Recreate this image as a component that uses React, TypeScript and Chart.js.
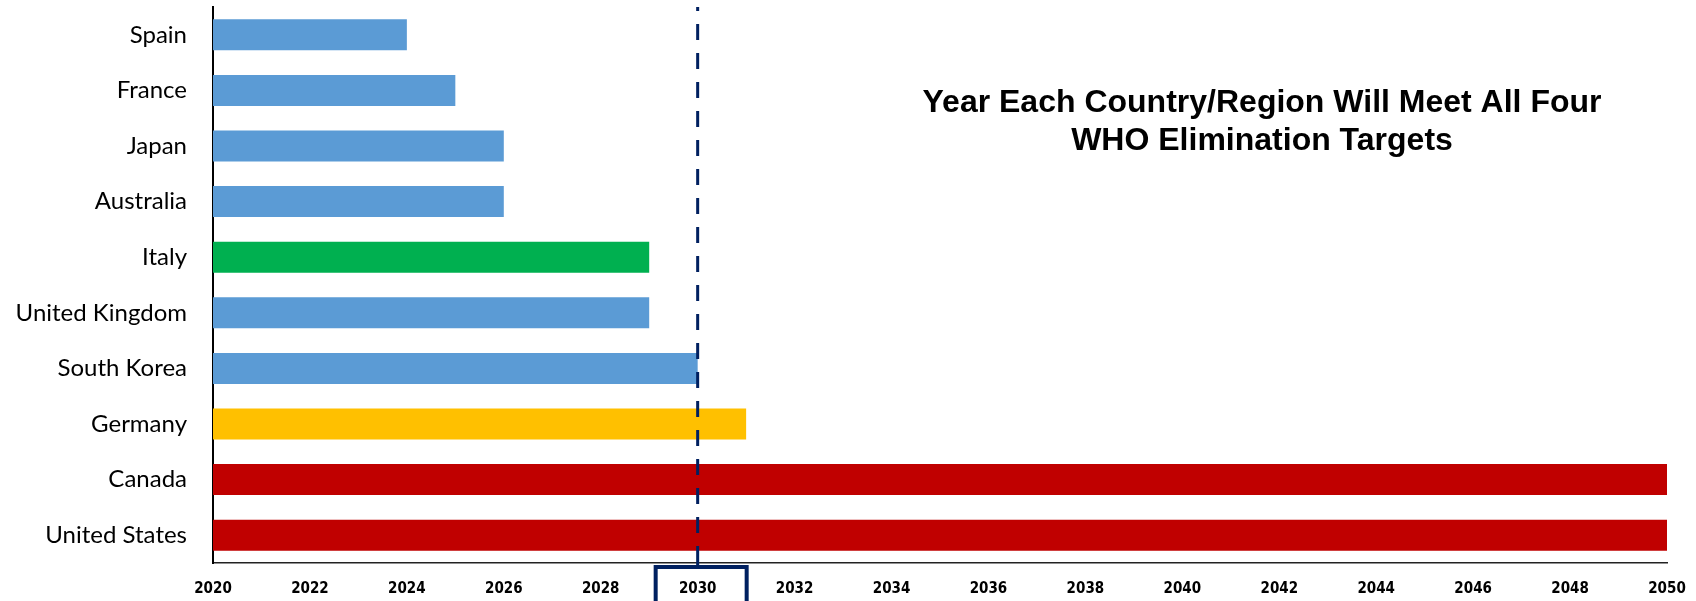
import React, { useEffect, useRef } from "react";
import { Chart, registerables } from "chart.js";

Chart.register(...registerables);

const countries = [
  "Spain",
  "France",
  "Japan",
  "Australia",
  "Italy",
  "United Kingdom",
  "South Korea",
  "Germany",
  "Canada",
  "United States",
];
const eliminationYear = [2024, 2025, 2026, 2026, 2029, 2029, 2030, 2031, 2050, 2050];
const barColors = [
  "#5B9BD5",
  "#5B9BD5",
  "#5B9BD5",
  "#5B9BD5",
  "#00B050",
  "#5B9BD5",
  "#5B9BD5",
  "#FFC000",
  "#C00000",
  "#C00000",
];
const START_YEAR = 2020;
const END_YEAR = 2050;
const TARGET_YEAR = 2030;
const titleLines = ["Year Each Country/Region Will Meet All Four", "WHO Elimination Targets"];

const overlayPlugin = {
  id: "overlay",
  afterDatasetsDraw(chart: any) {
    const { ctx, chartArea, scales } = chart;
    const x = scales.x.getPixelForValue(TARGET_YEAR);
    ctx.save();
    // dashed target line
    ctx.strokeStyle = "#002060";
    ctx.lineWidth = 3;
    ctx.setLineDash([16, 13]);
    ctx.lineDashOffset = 12;
    ctx.beginPath();
    ctx.moveTo(x, chartArea.top);
    ctx.lineTo(x, chartArea.bottom - 16);
    ctx.stroke();
    ctx.setLineDash([]);
    ctx.beginPath();
    ctx.moveTo(x, chartArea.bottom - 16);
    ctx.lineTo(x, chartArea.bottom + 2);
    ctx.stroke();
    // box around target tick label
    ctx.lineWidth = 4;
    ctx.beginPath();
    const left = x - 42;
    const right = x + 49;
    const top = chartArea.bottom + 4;
    ctx.moveTo(left, chart.height + 5);
    ctx.lineTo(left, top);
    ctx.lineTo(right, top);
    ctx.lineTo(right, chart.height + 5);
    ctx.stroke();
    // title
    ctx.fillStyle = "#000";
    ctx.font = 'bold 31px "Liberation Sans", Arial, sans-serif';
    ctx.textAlign = "center";
    ctx.textBaseline = "alphabetic";
    const w = ctx.measureText(titleLines[0]).width;
    const sx = 679 / w;
    ctx.translate(1262, 0);
    ctx.scale(sx, 1);
    ctx.fillText(titleLines[0], 0, 112);
    ctx.fillText(titleLines[1], 0, 150);
    ctx.restore();
  },
};

export default function App() {
  const ref = useRef<HTMLCanvasElement>(null);
  useEffect(() => {
    document.body.style.margin = "0";
    const chart = new Chart(ref.current as HTMLCanvasElement, {
      type: "bar",
      data: {
        labels: countries,
        datasets: [
          {
            data: eliminationYear.map((v) => [START_YEAR, v]) as any,
            backgroundColor: barColors,
            borderWidth: 0,
            categoryPercentage: 1,
            barPercentage: 0.557,
          },
        ],
      },
      options: {
        indexAxis: "y",
        animation: false,
        responsive: false,
        layout: { padding: { top: 7, right: 29, left: 0, bottom: 0 } },
        plugins: { legend: { display: false }, tooltip: { enabled: false }, title: { display: false } },
        scales: {
          x: {
            type: "linear",
            min: START_YEAR,
            max: END_YEAR,
            grid: { display: false, drawTicks: false },
            border: { display: true, color: "#222", width: 1.5 },
            ticks: {
              stepSize: 2,
              padding: 17,
              color: "#000",
              font: { family: '"DejaVu Sans Condensed", "DejaVu Sans"', size: 15, weight: "bold" },
              callback: (v: any) => String(v),
              maxRotation: 0,
              autoSkip: false,
            },
            afterFit: (s: any) => {
              s.height = 38;
              s.paddingLeft = 0;
              s.paddingRight = 0;
            },
          },
          y: {
            type: "category",
            grid: { display: false, drawTicks: false },
            border: { display: true, color: "#000", width: 2 },
            ticks: {
              padding: 26,
              color: "#000",
              font: { family: "Lato, sans-serif", size: 24 },
            },
            afterFit: (s: any) => {
              s.width = 213;
              s.paddingTop = 0;
              s.paddingBottom = 0;
            },
          },
        },
      },
      plugins: [overlayPlugin],
    });
    return () => chart.destroy();
  }, []);
  return (
    <div style={{ width: 1696, height: 601 }}>
      <canvas ref={ref} width={1696} height={601} style={{ display: "block" }} />
    </div>
  );
}
